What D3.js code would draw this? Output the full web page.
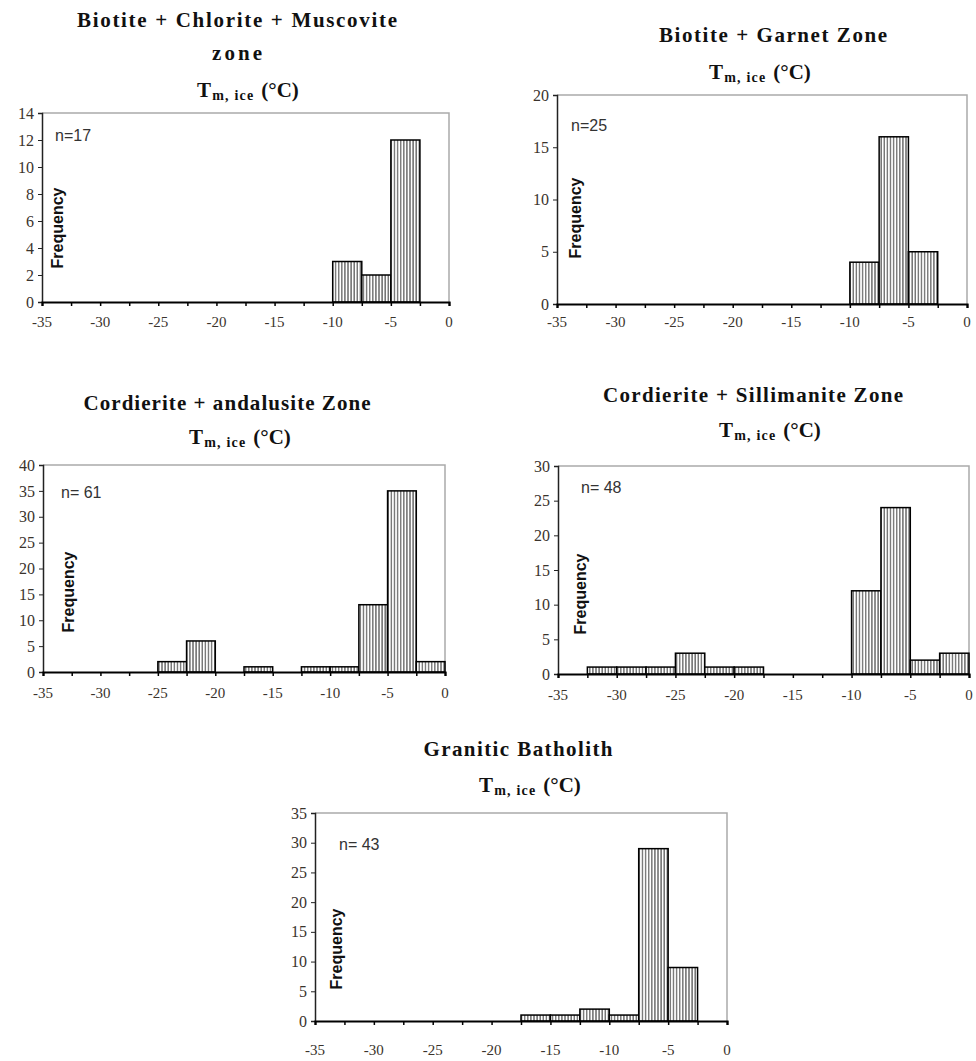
<!DOCTYPE html>
<html>
<head>
<meta charset="utf-8">
<script src="https://cdn.jsdelivr.net/npm/d3@7"></script>
<style>
  html, body { margin: 0; padding: 0; background: #fff; }
  svg { display: block; }
</style>
</head>
<body>
<svg id="chart" width="976" height="1061"></svg>
<script>
// ---------------- DATA ----------------
const xTicks = [-35, -32.5, -30, -27.5, -25, -22.5, -20, -17.5, -15, -12.5, -10, -7.5, -5, -2.5, 0];
const xTickLabels = [-35, -30, -25, -20, -15, -10, -5, 0];
const binWidth = 2.5;

const titles1 = ["Biotite + Chlorite + Muscovite", "zone"];
const bins1 = [-10, -7.5, -5];
const counts1 = [3, 2, 12];
const yTicks1 = [0, 2, 4, 6, 8, 10, 12, 14];
const n1 = "n=17";

const titles2 = ["Biotite + Garnet Zone"];
const bins2 = [-10, -7.5, -5];
const counts2 = [4, 16, 5];
const yTicks2 = [0, 5, 10, 15, 20];
const n2 = "n=25";

const titles3 = ["Cordierite + andalusite Zone"];
const bins3 = [-25, -22.5, -17.5, -12.5, -10, -7.5, -5, -2.5];
const counts3 = [2, 6, 1, 1, 1, 13, 35, 2];
const yTicks3 = [0, 5, 10, 15, 20, 25, 30, 35, 40];
const n3 = "n= 61";

const titles4 = ["Cordierite + Sillimanite Zone"];
const bins4 = [-32.5, -30, -27.5, -25, -22.5, -20, -10, -7.5, -5, -2.5];
const counts4 = [1, 1, 1, 3, 1, 1, 12, 24, 2, 3];
const yTicks4 = [0, 5, 10, 15, 20, 25, 30];
const n4 = "n= 48";

const titles5 = ["Granitic Batholith"];
const bins5 = [-17.5, -15, -12.5, -10, -7.5, -5];
const counts5 = [1, 1, 2, 1, 29, 9];
const yTicks5 = [0, 5, 10, 15, 20, 25, 30, 35];
const n5 = "n= 43";

// ---------------- LAYOUT ----------------
const panels = [
  { titles: titles1, bins: bins1, counts: counts1, yTicks: yTicks1, n: n1,
    x0: 42, x1: 449, yTop: 113, yBot: 302, xlDy: 20,
    titleX: 237, titleY: [20, 53], titleW: [320, 50], tmX: 248, tmY: 90,
    nX: 55, nY: 135, fX: 57, fY: 228 },
  { titles: titles2, bins: bins2, counts: counts2, yTicks: yTicks2, n: n2,
    x0: 557, x1: 967, yTop: 95, yBot: 304, xlDy: 18,
    titleX: 773, titleY: [35], titleW: [228], tmX: 760, tmY: 72,
    nX: 571, nY: 125, fX: 575, fY: 218 },
  { titles: titles3, bins: bins3, counts: counts3, yTicks: yTicks3, n: n3,
    x0: 43, x1: 445, yTop: 465, yBot: 672, xlDy: 21,
    titleX: 227, titleY: [403], titleW: [287], tmX: 240, tmY: 437,
    nX: 61, nY: 492, fX: 68, fY: 592 },
  { titles: titles4, bins: bins4, counts: counts4, yTicks: yTicks4, n: n4,
    x0: 558, x1: 969, yTop: 466, yBot: 674, xlDy: 21,
    titleX: 753, titleY: [395], titleW: [300], tmX: 770, tmY: 430,
    nX: 581, nY: 487, fX: 580, fY: 594 },
  { titles: titles5, bins: bins5, counts: counts5, yTicks: yTicks5, n: n5,
    x0: 315, x1: 727, yTop: 813, yBot: 1021, xlDy: 29,
    titleX: 518, titleY: [749], titleW: [189], tmX: 530, tmY: 785,
    nX: 339, nY: 844, fX: 336, fY: 949 }
];

const svg = d3.select("#chart");
const defs = svg.append("defs");
const pat = defs.append("pattern")
  .attr("id", "vhatch")
  .attr("patternUnits", "userSpaceOnUse")
  .attr("width", 3.1).attr("height", 10);
pat.append("rect").attr("width", 3.1).attr("height", 10).attr("fill", "#fff");
pat.append("line").attr("x1", 0.8).attr("x2", 0.8).attr("y1", 0).attr("y2", 10)
  .attr("stroke", "#444").attr("stroke-width", 1.1);

const serif = "'Liberation Serif', 'Times New Roman', serif";
const sans = "'Liberation Sans', Arial, sans-serif";

panels.forEach(p => {
  const g = svg.append("g");
  const x = d3.scaleLinear().domain([-35, 0]).range([p.x0, p.x1]);
  const yMax = p.yTicks[p.yTicks.length - 1];
  const y = d3.scaleLinear().domain([0, yMax]).range([p.yBot, p.yTop]);

  // Titles
  p.titles.forEach((t, i) => {
    g.append("text")
      .attr("x", p.titleX).attr("y", p.titleY[i] + 7)
      .attr("text-anchor", "middle")
      .attr("font-family", serif).attr("font-weight", "bold")
      .attr("font-size", 21).attr("fill", "#111")
      .attr("textLength", p.titleW[i]).attr("lengthAdjust", "spacing")
      .text(t);
  });
  const tm = g.append("text")
    .attr("x", p.tmX).attr("y", p.tmY + 7)
    .attr("text-anchor", "middle")
    .attr("font-family", serif).attr("font-weight", "bold")
    .attr("font-size", 21).attr("fill", "#111");
  tm.append("tspan").text("T");
  tm.append("tspan").attr("font-size", 14).attr("dy", 3).attr("dx", 1)
    .attr("letter-spacing", 1.2).text("m, ice");
  tm.append("tspan").attr("dy", -3).attr("dx", 7).text("(°C)");

  // Frame (top & right)
  g.append("path")
    .attr("d", `M${p.x0},${p.yTop}H${p.x1}V${p.yBot}`)
    .attr("fill", "none").attr("stroke", "#aaa").attr("stroke-width", 1.5);

  // Bars
  g.selectAll("rect.bar")
    .data(p.bins.map((b, i) => ({ b, c: p.counts[i] })))
    .join("rect")
    .attr("class", "bar")
    .attr("x", d => x(d.b))
    .attr("width", d => x(d.b + binWidth) - x(d.b))
    .attr("y", d => y(d.c))
    .attr("height", d => y(0) - y(d.c))
    .attr("fill", "url(#vhatch)")
    .attr("stroke", "#000").attr("stroke-width", 1.5);

  // Y axis
  const yAxis = d3.axisLeft(y).tickValues(p.yTicks).tickSize(4).tickPadding(4)
    .tickFormat(d3.format("d"));
  const ya = g.append("g").attr("transform", `translate(${p.x0},0)`).call(yAxis);
  ya.select(".domain").attr("stroke", "#222").attr("stroke-width", 1.5);
  ya.selectAll(".tick line").attr("stroke", "#222");
  ya.selectAll(".tick text").attr("font-family", serif).attr("font-size", 16)
    .attr("fill", "#3a332c");

  // X axis
  const xAxis = d3.axisBottom(x).tickValues(xTicks).tickSize(4).tickFormat("");
  const xa = g.append("g").attr("transform", `translate(0,${p.yBot})`).call(xAxis);
  xa.select(".domain").attr("stroke", "#000").attr("stroke-width", 2.2);
  xa.selectAll(".tick line").attr("stroke", "#000").attr("stroke-width", 1.5);
  g.selectAll("text.xl")
    .data(xTickLabels)
    .join("text")
    .attr("class", "xl")
    .attr("x", d => x(d))
    .attr("y", p.yBot + p.xlDy + 5)
    .attr("text-anchor", "middle")
    .attr("font-family", serif).attr("font-size", 15).attr("fill", "#3a332c")
    .text(d => d);

  // n label
  g.append("text")
    .attr("x", p.nX).attr("y", p.nY + 6)
    .attr("font-family", sans).attr("font-size", 16).attr("fill", "#333")
    .text(p.n);

  // Frequency label
  g.append("text")
    .attr("transform", `translate(${p.fX + 6},${p.fY}) rotate(-90)`)
    .attr("text-anchor", "middle")
    .attr("font-family", sans).attr("font-weight", "bold")
    .attr("font-size", 16).attr("fill", "#111")
    .text("Frequency");
});
</script>
</body>
</html>
